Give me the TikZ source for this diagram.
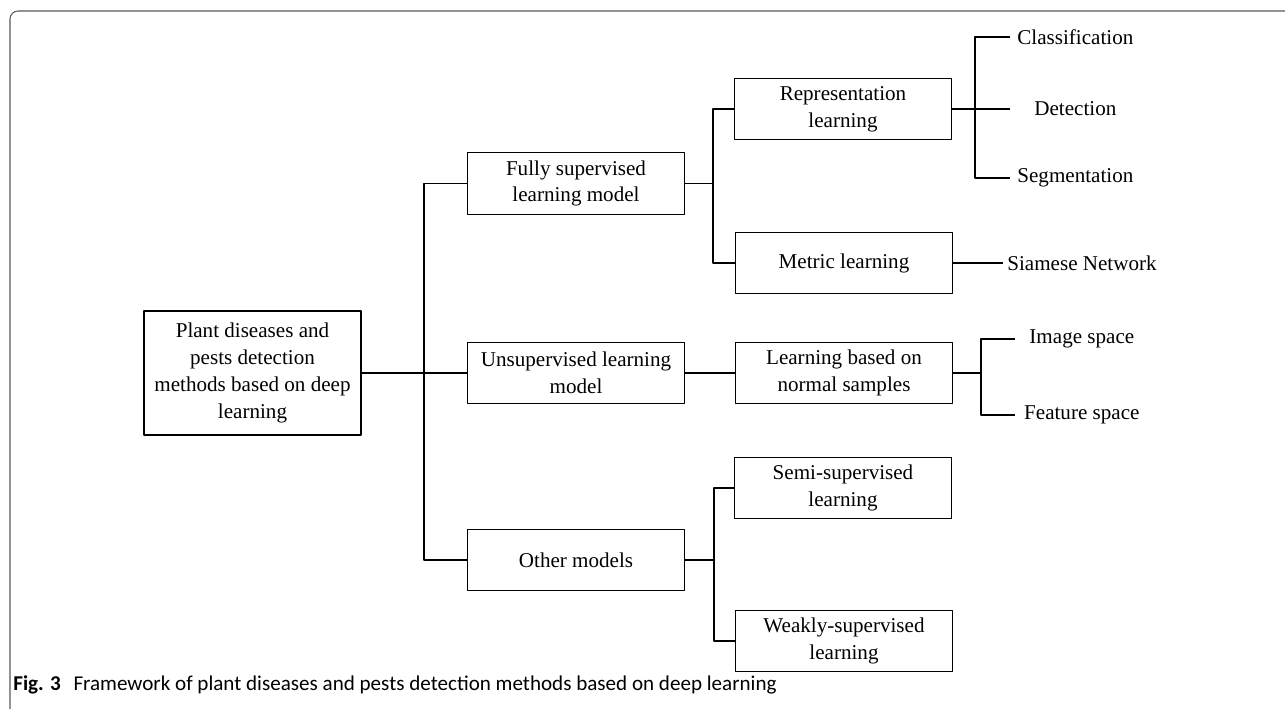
\documentclass[tikz,border=0pt]{standalone}
\usepackage{fontspec}
\setmainfont{Liberation Serif}
\newfontfamily\capfont{Carlito}
\usetikzlibrary{positioning}

\begin{document}
\begin{tikzpicture}[x=0.02cm, y=-0.02cm, line join = round,
    box/.style={draw, line width=0.8pt, align=center, inner sep=0pt,
        minimum width=4.34cm, minimum height=1.23cm,
        font=\fontsize{12}{15.2}\selectfont},
    leaf/.style={align=center, inner sep=0pt, minimum width=2.6cm,
        font=\fontsize{12}{15.2}\selectfont},
    link/.style={line width=0.8pt}]

                        \useasboundingbox (0,0) rectangle (1285,709);
                        % frame
                        \draw[gray!70!black, line width=0.6pt, rounded corners=0.16cm]
                            (10,709) -- (10,11) -- (1285,11);

                        % root
                        \node[box, minimum height=2.48cm] (root) at (252.5,373)
                            {Plant diseases and\\ pests detection\\ methods based on deep\\ learning};
                        % level 1
                        \node[box] (full) at (576,183.5) {Fully supervised\\ learning model};
                        \node[box] (unsup) at (576,373) {Unsupervised learning\\ model};
                        \node[box] (other) at (576,560) {Other models};
                        % level 2
                        \node[box] (repr) at (843,109) {Representation\\ learning};
                        \node[box] (metric) at (844,263) {Metric learning};
                        \node[box] (normal) at (844,373) {Learning based on\\ normal samples};
                        \node[box] (semi) at (843,488) {Semi-supervised\\ learning};
                        \node[box] (weak) at (844,641) {Weakly-supervised\\ learning};
                        % level 3
                        \node[leaf, anchor=west] (cls) at (1010,37) {Classification};
                        \node[leaf, anchor=west] (det) at (1010,109) {Detection};
                        \node[leaf, anchor=west] (seg) at (1010,178) {Segmentation};
                        \node[leaf, anchor=west, minimum width=0pt] (siam) at (1007,263) {Siamese Network};
                        \node[leaf, anchor=west, minimum width=2.66cm] (img) at (1015,339) {Image space};
                        \node[leaf, anchor=west, minimum width=2.66cm] (feat) at (1015,415) {Feature space};

                        % junctions
                        \coordinate (0) at (424,373);
                        \coordinate (1) at (713,183.5);
                        \coordinate (2) at (975,109);
                        \coordinate (3) at (981,373);
                        \coordinate (4) at (714,560);

                        \begin{scope}[link]
                            % root to level 1
                            \draw (root.east) -- (0) -- (unsup.west);
                            \draw (full.west) -| (0) |- (other.west);
                            % fully supervised
                            \draw (full.east) -- (1);
                            \draw (repr.west) -| (1) |- (metric.west);
                            \draw (repr.east) -- (2) -- (det.west);
                            \draw (cls.west) -| (2) |- (seg.west);
                            \draw (metric.east) -- ++(50,0);
                            % unsupervised
                            \draw (unsup.east) -- (normal.west);
                            \draw (normal.east) -- (3);
                            \draw (img.west) -| (3) |- (feat.west);
                            % other models
                            \draw (other.east) -- (4);
                            \draw (semi.west) -| (4) |- (weak.west);
                        \end{scope}

                        % caption
                        \node[anchor=base west, inner sep=0pt, font=\capfont\fontsize{12}{14}\selectfont] (cap) at (13,690)
                            {\textbf{Fig. 3}\hspace{0.6em}Framework of plant diseases and pests detection methods based on deep learning};

                    \end{tikzpicture}
\end{document}
